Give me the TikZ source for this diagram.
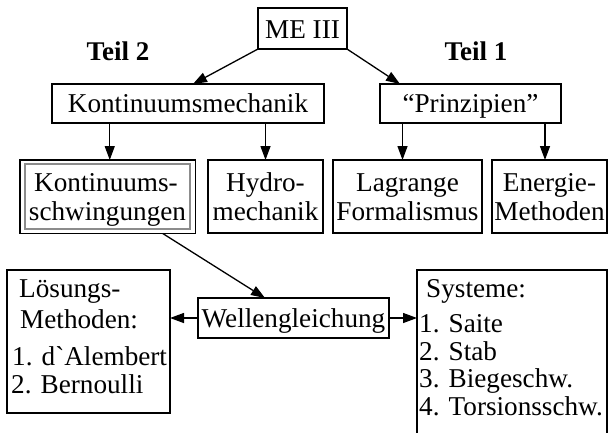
\documentclass[tikz,border=0pt]{standalone}
\usepackage{fontspec}
\newfontfamily\tnr{Liberation Serif}
\usetikzlibrary{arrows.meta}
\begin{document}
\begin{tikzpicture}[x=1pt,y=-1pt,
  rbox/.style={draw=black, line width=1.9pt, inner sep=0pt, outer sep=0pt},
  gbox/.style={draw=black!45, line width=1.1pt, inner sep=0pt, outer sep=0pt},
  txt/.style={font=\tnr\fontsize{27.2}{31}\selectfont, inner sep=0pt, anchor=base},
  ltxt/.style={txt, anchor=base west},
  btxt/.style={font=\tnr\bfseries\fontsize{27}{30}\selectfont, inner sep=0pt, anchor=base},
  arr/.style={draw=black, line width=1.3pt, -{Triangle[length=14pt,width=10pt]}}]
\useasboundingbox (0,0) rectangle (608,432);
\fill[white] (0,0) rectangle (608,432);
% top
\node[rbox, minimum width=89pt, minimum height=41pt] (me) at (302.5,28.5) {};
\node[txt] (meT) at (302.5,38) {ME III};
\node[btxt] (t2) at (118,60) {Teil 2};
\node[btxt] (t1) at (476,60) {Teil 1};
\node[rbox, minimum width=272pt, minimum height=39pt] (km) at (188,103.5) {};
\node[txt] (kmT) at (188,112) {Kontinuumsmechanik};
\node[rbox, minimum width=181pt, minimum height=39pt] (pr) at (470.5,103.5) {};
\node[txt] (prT) at (470.5,112) {“Prinzipien”};
% middle row
\node[rbox, minimum width=175.5pt, minimum height=73.5pt] (ks) at (107.75,196.75) {};
\node[gbox, minimum width=165pt, minimum height=65pt] (ksi) at (107.5,196.5) {};
\node[txt] (ksT1) at (106,191) {Kontinuums-};
\node[txt] (ksT2) at (107.5,220) {schwingungen};
\node[rbox, minimum width=115pt, minimum height=73pt] (hy) at (265.5,196.5) {};
\node[txt] (hyT1) at (265.5,191) {Hydro-};
\node[txt] (hyT2) at (265.5,220) {mechanik};
\node[rbox, minimum width=149pt, minimum height=73pt] (lg) at (407.5,196.5) {};
\node[txt] (lgT1) at (407.5,191) {Lagrange};
\node[txt] (lgT2) at (407.5,220) {Formalismus};
\node[rbox, minimum width=115pt, minimum height=73pt] (en) at (549.5,196.5) {};
\node[txt] (enT1) at (549.5,191) {Energie-};
\node[txt] (enT2) at (549.5,220) {Methoden};
% bottom row
\node[rbox, minimum width=163pt, minimum height=143pt] (lo) at (88.5,341.5) {};
\node[ltxt] (loT1) at (19,297) {Lösungs-};
\node[ltxt] (loT2) at (20,328) {Methoden:};
\node[ltxt] (loT3) at (12,365) {1. d\char"0060 Alembert};
\node[ltxt] (loT4) at (11,393) {2. Bernoulli};
\node[rbox, minimum width=191pt, minimum height=40pt] (we) at (293.5,318) {};
\node[txt] (weT) at (293.5,327) {Wellengleichung};
\node[rbox, minimum width=190pt, minimum height=180pt] (sy) at (512,360) {};
\node[ltxt] (syT1) at (426,297) {Systeme:};
\node[ltxt] (syT2) at (419,332) {1. Saite};
\node[ltxt] (syT3) at (419,360) {2. Stab};
\node[ltxt] (syT4) at (419,387) {3. Biegeschw.};
\node[ltxt] (syT5) at (419,415) {4. Torsionsschw.};
% connectors
\coordinate (c1) at ([xshift=141pt]km.north west);
\coordinate (c2) at ([xshift=20pt]pr.north west);
\draw[arr] (me.south west) -- (c1);
\draw[arr] (me.south east) -- (c2);
\coordinate (c3) at ([xshift=2pt]ks.north);
\coordinate (c4) at ([xshift=-5pt]lg.north);
\coordinate (c5) at ([xshift=-4.5pt]en.north);
\draw[arr] (c3 |- km.south) -- (c3);
\draw[arr] (hy.north |- km.south) -- (hy.north);
\draw[arr] (c4 |- pr.south) -- (c4);
\draw[arr] (c5 |- pr.south) -- (c5);
\coordinate (d1) at ([xshift=55pt]ks.south);
\coordinate (d2) at ([xshift=-28.5pt]we.north);
\draw[arr] (d1) -- (d2);
\draw[arr] (we.west) -- (we.west -| lo.east);
\draw[arr] (we.east) -- (we.east -| sy.west);
\end{tikzpicture}
\end{document}
